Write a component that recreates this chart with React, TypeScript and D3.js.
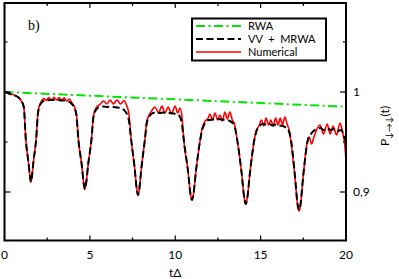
import React from "react";
import * as d3 from "d3";

// RWA: straight line, read at both ends
const rwaPoints: [number, number][] = [
  [0, 1.0],
  [20, 0.9853],
];

// VV + MRWA (black dashed)
const vvPoints: [number, number][] = [
  [0, 1.0], [0.15, 0.9992], [0.32, 0.998], [0.48, 0.9972], [0.62, 0.9964], [0.79, 0.995],
  [0.95, 0.992], [1.13, 0.985], [1.25, 0.952], [1.4, 0.93], [1.505, 0.914], [1.55, 0.91],
  [1.595, 0.914], [1.7, 0.931], [1.85, 0.952], [1.97, 0.98], [2.15, 0.989], [2.35, 0.9915],
  [2.55, 0.9918], [2.75, 0.992], [2.95, 0.9922], [3.15, 0.992], [3.35, 0.9915], [3.55, 0.9915],
  [3.75, 0.9905], [3.95, 0.988], [4.1, 0.984], [4.21, 0.977], [4.33, 0.952], [4.52, 0.9275],
  [4.653, 0.907], [4.71, 0.903], [4.767, 0.907], [4.9, 0.9275], [5.09, 0.952], [5.21, 0.975],
  [5.39, 0.983], [5.6, 0.985], [5.8, 0.9855], [6.0, 0.985], [6.2, 0.9855], [6.4, 0.985],
  [6.6, 0.9845], [6.8, 0.984], [7.0, 0.982], [7.14, 0.979], [7.28, 0.972], [7.42, 0.952],
  [7.62, 0.9245], [7.76, 0.901], [7.82, 0.897], [7.88, 0.901], [8.02, 0.9245], [8.22, 0.952],
  [8.34, 0.97], [8.5, 0.976], [8.7, 0.979], [8.9, 0.9795], [9.1, 0.979], [9.3, 0.9795],
  [9.5, 0.979], [9.7, 0.979], [9.9, 0.9785], [10.1, 0.978], [10.28, 0.975], [10.4, 0.967],
  [10.5, 0.952], [10.74, 0.922], [10.91, 0.896], [10.98, 0.892], [11.05, 0.896], [11.22, 0.922],
  [11.46, 0.952], [11.58, 0.962], [11.75, 0.969], [11.95, 0.972], [12.2, 0.9725], [12.45, 0.973],
  [12.7, 0.9725], [12.95, 0.972], [13.2, 0.971], [13.45, 0.967], [13.63, 0.952], [13.88, 0.92],
  [14.06, 0.892], [14.13, 0.888], [14.2, 0.892], [14.38, 0.92], [14.63, 0.952], [14.74, 0.96],
  [14.9, 0.965], [15.1, 0.968], [15.3, 0.9675], [15.5, 0.968], [15.7, 0.9665], [15.9, 0.9675],
  [16.1, 0.9665], [16.3, 0.966], [16.5, 0.964], [16.65, 0.961], [16.78, 0.952], [17.0, 0.918],
  [17.18, 0.886], [17.25, 0.882], [17.32, 0.886], [17.5, 0.917], [17.77, 0.952], [17.95, 0.958],
  [18.1, 0.961], [18.3, 0.963], [18.5, 0.964], [18.7, 0.962], [18.9, 0.964], [19.1, 0.962],
  [19.3, 0.963], [19.5, 0.961], [19.7, 0.962], [19.85, 0.958], [20.0, 0.95],
];

// Numerical (red solid)
const numPoints: [number, number][] = [
  [0, 1.0], [0.15, 0.9995], [0.32, 0.998], [0.48, 0.9975], [0.62, 0.9966], [0.79, 0.995],
  [0.95, 0.992], [1.13, 0.985], [1.25, 0.952], [1.4, 0.93], [1.505, 0.914], [1.55, 0.91],
  [1.595, 0.914], [1.7, 0.931], [1.85, 0.952], [1.97, 0.981], [2.15, 0.9905], [2.3, 0.9935],
  [2.45, 0.9915], [2.6, 0.9945], [2.75, 0.992], [2.9, 0.9948], [3.05, 0.992], [3.2, 0.9945],
  [3.35, 0.9918], [3.5, 0.9942], [3.65, 0.991], [3.8, 0.993], [3.95, 0.989], [4.1, 0.985],
  [4.21, 0.978], [4.33, 0.952], [4.52, 0.9275], [4.653, 0.907], [4.71, 0.903], [4.767, 0.907],
  [4.9, 0.9275], [5.09, 0.952], [5.21, 0.976], [5.39, 0.985], [5.58, 0.9875], [5.8, 0.991],
  [6.0, 0.988], [6.18, 0.992], [6.38, 0.988], [6.59, 0.992], [6.8, 0.988], [7.0, 0.9915],
  [7.14, 0.987], [7.28, 0.979], [7.42, 0.952], [7.62, 0.9245], [7.76, 0.901], [7.82, 0.897],
  [7.88, 0.901], [8.02, 0.9245], [8.22, 0.952], [8.34, 0.971], [8.5, 0.978], [8.65, 0.982],
  [8.81, 0.985], [9.02, 0.979], [9.22, 0.986], [9.4, 0.979], [9.58, 0.985], [9.78, 0.978],
  [9.99, 0.986], [10.14, 0.979], [10.28, 0.984], [10.4, 0.974], [10.5, 0.952], [10.74, 0.922],
  [10.91, 0.896], [10.98, 0.892], [11.05, 0.896], [11.22, 0.922], [11.46, 0.952], [11.58, 0.964],
  [11.75, 0.971], [11.9, 0.973], [12.03, 0.978], [12.18, 0.972], [12.33, 0.979], [12.48, 0.972],
  [12.62, 0.977], [12.76, 0.971], [12.91, 0.98], [13.05, 0.973], [13.2, 0.98], [13.34, 0.972],
  [13.45, 0.969], [13.63, 0.952], [13.88, 0.92], [14.06, 0.892], [14.13, 0.888], [14.2, 0.892],
  [14.38, 0.92], [14.63, 0.952], [14.74, 0.961], [14.9, 0.966], [15.05, 0.972], [15.18, 0.966],
  [15.32, 0.974], [15.46, 0.967], [15.6, 0.972], [15.74, 0.966], [15.88, 0.974], [16.02, 0.967],
  [16.15, 0.974], [16.28, 0.967], [16.42, 0.975], [16.55, 0.968], [16.68, 0.961], [16.76, 0.952],
  [17.0, 0.917], [17.18, 0.885], [17.25, 0.881], [17.32, 0.885], [17.5, 0.917], [17.75, 0.952],
  [17.85, 0.955], [17.98, 0.948], [18.12, 0.955], [18.3, 0.963], [18.48, 0.967], [18.68, 0.958],
  [18.9, 0.968], [19.07, 0.958], [19.24, 0.966], [19.45, 0.957], [19.65, 0.969], [19.8, 0.96],
  [19.92, 0.948], [20.0, 0.932],
];

const xMajorTicks = [0, 5, 10, 15, 20];
const xMinorTicks = [2.5, 7.5, 12.5, 17.5];
const yMajorTicks = [0.9, 1.0];
const yMajorLabels = ["0,9", "1"];
const yMinorTicks = [0.95, 1.05];

const legendItems = [
  { label: "RWA", color: "#00e600", dash: "9,3.5,2,3.5", width: 2 },
  { label: "VV  +  MRWA", color: "#000000", dash: "7,3.5", width: 2 },
  { label: "Numerical", color: "#ff0000", dash: "none", width: 1.6 },
];

const W = 399;
const H = 279;
const left = 4.5;
const right = 346;
const top = 3;
const bottom = 240.5;

const App = () => {
  const x = d3.scaleLinear().domain([0, 20]).range([left, right]);
  const y = d3.scaleLinear().domain([0.8515, 1.089]).range([bottom, top]);

  const line = d3
    .line<[number, number]>()
    .x((d) => x(d[0]))
    .y((d) => y(d[1]))
    .curve(d3.curveMonotoneX);

  const font = "Lato, 'DejaVu Sans', sans-serif";

  return (
    <svg
      width={W}
      height={H}
      style={{ position: "absolute", left: 0, top: 0, background: "white" }}
    >
      <defs>
        <clipPath id="plot-clip">
          <rect x={left} y={top} width={right - left} height={bottom - top} />
        </clipPath>
      </defs>

      <g clipPath="url(#plot-clip)">
        <path d={line(rwaPoints) ?? ""} fill="none" stroke="#00e600" strokeWidth={2} strokeDasharray="9,3.5,2,3.5" />
        <path d={line(numPoints) ?? ""} fill="none" stroke="#ff0000" strokeWidth={1.6} />
        <path d={line(vvPoints) ?? ""} fill="none" stroke="#000" strokeWidth={2} strokeDasharray="7,3.5" />
      </g>

      {/* ticks, inward on all four sides */}
      {xMajorTicks.map((t) => (
        <g key={"xM" + t}>
          <line x1={x(t)} x2={x(t)} y1={bottom} y2={bottom - 5} stroke="#000" strokeWidth={1.2} />
          <line x1={x(t)} x2={x(t)} y1={top} y2={top + 5} stroke="#000" strokeWidth={1.2} />
          <text x={x(t)} y={259} textAnchor="middle" fontFamily={font} fontSize={12}>
            {t}
          </text>
        </g>
      ))}
      {xMinorTicks.map((t) => (
        <g key={"xm" + t}>
          <line x1={x(t)} x2={x(t)} y1={bottom} y2={bottom - 3} stroke="#000" strokeWidth={1.2} />
          <line x1={x(t)} x2={x(t)} y1={top} y2={top + 3} stroke="#000" strokeWidth={1.2} />
        </g>
      ))}
      {yMajorTicks.map((v, i) => (
        <g key={"yM" + v}>
          <line x1={left} x2={left + 6} y1={y(v)} y2={y(v)} stroke="#000" strokeWidth={1.2} />
          <line x1={right} x2={right - 6} y1={y(v)} y2={y(v)} stroke="#000" strokeWidth={1.2} />
          <text x={353} y={y(v)} dy="0.36em" fontFamily={font} fontSize={12}>
            {yMajorLabels[i]}
          </text>
        </g>
      ))}
      {yMinorTicks.map((v) => (
        <g key={"ym" + v}>
          <line x1={left} x2={left + 3} y1={y(v)} y2={y(v)} stroke="#000" strokeWidth={1.2} />
          <line x1={right} x2={right - 3} y1={y(v)} y2={y(v)} stroke="#000" strokeWidth={1.2} />
        </g>
      ))}

      {/* frame */}
      <rect x={left} y={top} width={right - left} height={bottom - top} fill="none" stroke="#000" strokeWidth={2} />

      {/* legend */}
      <rect x={192} y={18.5} width={134} height={42} fill="white" stroke="#000" strokeWidth={2} />
      {legendItems.map((item, i) => {
        const ly = 26 + i * 13;
        return (
          <g key={item.label}>
            <line
              x1={196}
              x2={241}
              y1={ly}
              y2={ly}
              stroke={item.color}
              strokeWidth={item.width}
              strokeDasharray={item.dash}
            />
            <text x={248} y={ly} dy="0.36em" fontFamily={font} fontSize={11} style={{ whiteSpace: "pre" }}>
              {item.label}
            </text>
          </g>
        );
      })}

      <text x={28} y={29.5} fontFamily="'Liberation Serif', serif" fontSize={14}>
        b)
      </text>

      <text x={x(10)} y={277} textAnchor="middle" fontFamily={font} fontSize={12}>
        tΔ
      </text>

      <text
        transform="translate(389,126) rotate(-90)"
        textAnchor="middle"
        fontFamily={font}
        fontSize={12}
      >
        P
        <tspan fontSize={9} dy={3}>
          ↓→↓
        </tspan>
        <tspan dy={-3}>(t)</tspan>
      </text>
    </svg>
  );
};

export default App;
